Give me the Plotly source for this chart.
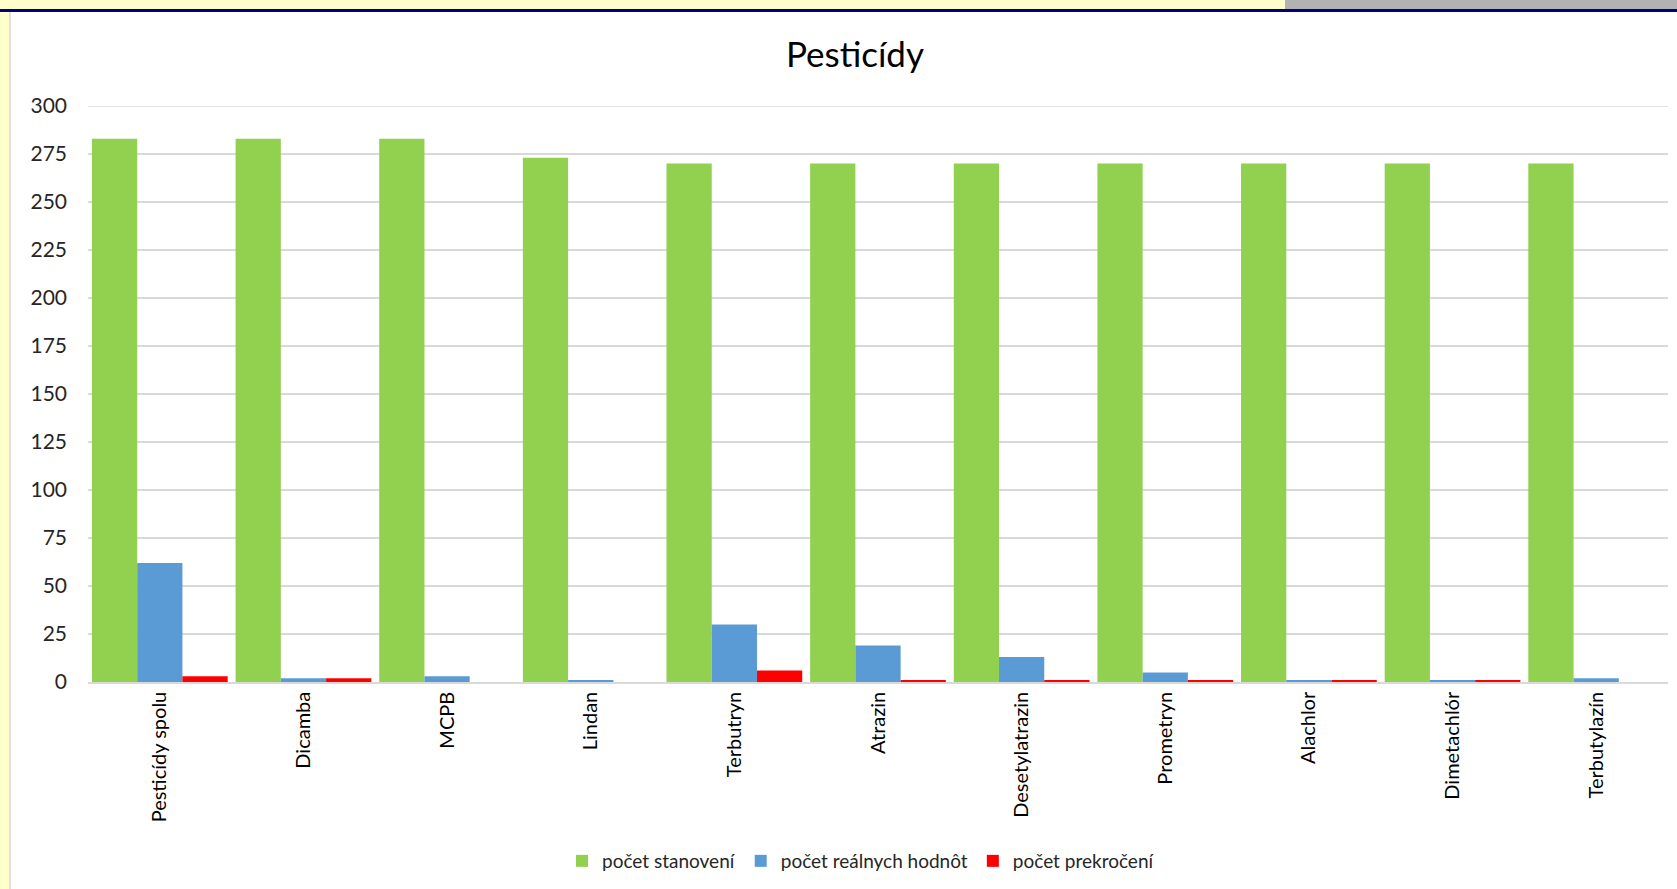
import plotly.graph_objects as go

categories = ["Pesticídy spolu", "Dicamba", "MCPB", "Lindan", "Terbutryn", "Atrazin",
              "Desetylatrazin", "Prometryn", "Alachlor", "Dimetachlór", "Terbutylazín"]
pocet_stanoveni = [283, 283, 283, 273, 270, 270, 270, 270, 270, 270, 270]
pocet_realnych = [62, 2, 3, 1, 30, 19, 13, 5, 1, 1, 2]
pocet_prekroceni = [3, 2, 0, 0, 6, 1, 1, 1, 1, 1, 0]
y_ticks = [0, 25, 50, 75, 100, 125, 150, 175, 200, 225, 250, 275, 300]

W, H = 1677, 889
L, R, T, B = 88, 9, 106, 207
pw, ph = W - L - R, H - T - B


def px(x):
    return (x - L) / pw


def py(y):
    return (H - B - y) / ph


FONT = "Lato, 'Open Sans', sans-serif"

fig = go.Figure()
for name, vals, col in [("počet stanovení", pocet_stanoveni, "#92D050"),
                        ("počet reálnych hodnôt", pocet_realnych, "#5B9BD5"),
                        ("počet prekročení", pocet_prekroceni, "#FF0000")]:
    fig.add_trace(go.Bar(name=name, x=categories, y=vals, marker_color=col,
                         marker_line_width=0))

shapes = [
    # yellow frame strip on top and left, grey block top right
    dict(type="rect", xref="paper", yref="paper", x0=px(0), x1=px(W), y0=py(0), y1=py(9),
         fillcolor="#FFFFCC", line_width=0, layer="below"),
    dict(type="rect", xref="paper", yref="paper", x0=px(1285), x1=px(W), y0=py(0), y1=py(9),
         fillcolor="#B2B2B2", line_width=0, layer="below"),
    dict(type="rect", xref="paper", yref="paper", x0=px(0), x1=px(W), y0=py(9), y1=py(12),
         fillcolor="#000080", line_width=0, layer="below"),
    dict(type="rect", xref="paper", yref="paper", x0=px(0), x1=px(9), y0=py(12), y1=py(H),
         fillcolor="#FFFFCC", line_width=0, layer="below"),
    dict(type="rect", xref="paper", yref="paper", x0=px(9), x1=px(11), y0=py(12), y1=py(H),
         fillcolor="#E0E0E0", line_width=0, layer="below"),
    # top gridline at the axis maximum
    dict(type="line", xref="paper", yref="y", x0=0, x1=1, y0=y_ticks[-1], y1=y_ticks[-1],
         line=dict(color="#D9D9D9", width=1.5), layer="below"),
]

fig.update_layout(
    width=W, height=H,
    margin=dict(l=L, r=R, t=T, b=B, pad=0),
    paper_bgcolor="white", plot_bgcolor="white",
    barmode="group", bargap=0.055, bargroupgap=0,
    font=dict(family=FONT, color="#262626"),
    title=dict(text="Pesticídy", x=px(855), xref="paper", xanchor="center",
               y=1 - 55 / H, yanchor="middle", font=dict(size=35, color="#000000", family=FONT)),
    xaxis=dict(tickangle=-90, tickfont=dict(size=20, family=FONT, color="#000000"),
               showgrid=False, showline=True, linecolor="#D9D9D9", linewidth=1.5,
               ticks="", automargin=False),
    yaxis=dict(range=[0, 300], tickvals=y_ticks, tickfont=dict(size=21, family=FONT, color="#262626"),
               showgrid=True, gridcolor="#D9D9D9", gridwidth=1.5, zeroline=False,
               showline=False, ticks="", ticklabelstandoff=20, automargin=False),
    legend=dict(orientation="h", x=px(861), xanchor="center", y=py(861), yanchor="middle",
                font=dict(size=19, family=FONT, color="#262626"), itemsizing="constant",
                traceorder="normal", itemwidth=30),
    shapes=shapes,
    showlegend=True,
)

fig.write_html("out.html")
